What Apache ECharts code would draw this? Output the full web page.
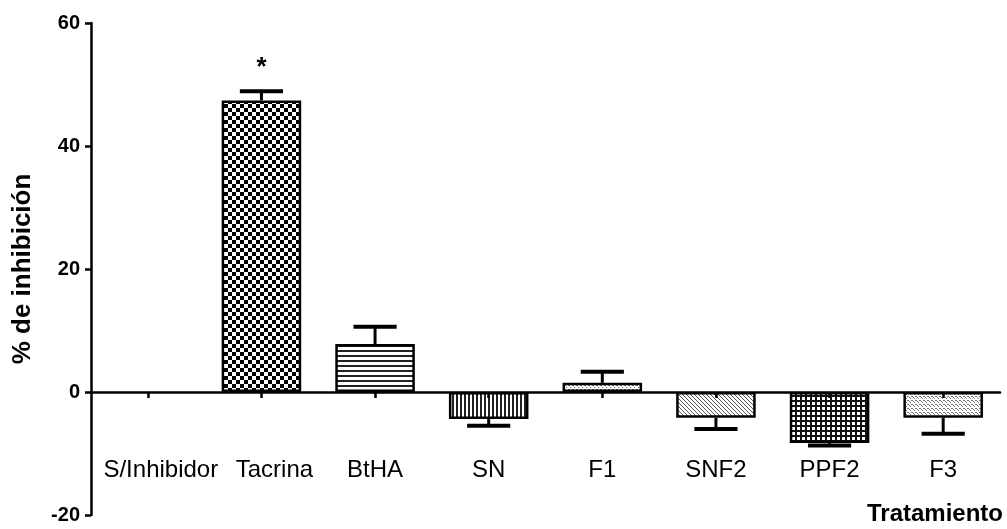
<!DOCTYPE html>
<html>
<head>
<meta charset="utf-8">
<script src="https://cdn.jsdelivr.net/npm/echarts@6/dist/echarts.min.js"></script>
<style>
  html, body { margin: 0; padding: 0; background: #fff; }
  #chart { width: 1007px; height: 529px; }
</style>
</head>
<body>
<div id="chart"></div>
<script>
// Treatments and their mean % inhibition with one-sided error (SEM)
const categories = ['S/Inhibidor', 'Tacrina', 'BtHA', 'SN', 'F1', 'SNF2', 'PPF2', 'F3'];
const means = [0, 47.4, 7.8, -4.4, 1.5, -4.2, -8.3, -4.2];
const errors = [0, 1.5, 2.8, 1.1, 1.8, 1.8, 0.4, 2.6];
const significance = ['', '*', '', '', '', '', '', ''];
const yTicks = { min: -20, max: 60, interval: 20 };

const FONT = '"Liberation Sans", Arial, sans-serif';

// Small repeating fill tiles for the hatched bars
function tile(w, h, draw) {
  const c = document.createElement('canvas');
  c.width = w; c.height = h;
  const g = c.getContext('2d');
  g.fillStyle = '#fff';
  g.fillRect(0, 0, w, h);
  draw(g);
  return c;
}
const fills = [
  tile(4, 4, g => {}),
  tile(8, 8, g => { g.fillStyle = '#000'; g.fillRect(0, 0, 4, 4); g.fillRect(4, 4, 4, 4); }),
  tile(4, 5, g => { g.fillStyle = '#222'; g.fillRect(0, 0, 4, 2); }),
  tile(4, 4, g => { g.fillStyle = '#222'; g.fillRect(0, 0, 2, 4); }),
  tile(4, 4, g => { g.fillStyle = '#666'; g.fillRect(0, 1, 2, 1); g.fillRect(2, 3, 1, 1); }),
  tile(4, 4, g => {
    g.fillStyle = '#555';
    for (let i = 0; i < 4; i++) { g.fillRect(i, i, 1, 1); }
  }),
  tile(5, 5, g => { g.fillStyle = '#111'; g.fillRect(0, 0, 5, 2); g.fillRect(0, 0, 2, 5); }),
  tile(4, 4, g => {
    g.fillStyle = '#777';
    g.fillRect(0, 0, 1, 1); g.fillRect(1, 1, 1, 1); g.fillRect(2, 2, 1, 1);
    g.fillRect(3, 0, 1, 1);
  })
];

const barData = means.map((v, i) => ({
  value: v,
  itemStyle: {
    color: { image: fills[i], repeat: 'repeat' },
    borderColor: i === 0 ? 'transparent' : '#000',
    borderWidth: 2.5
  }
}));

const errData = means.map((v, i) => [i, v, errors[i], significance[i]]);

const chart = echarts.init(document.getElementById('chart'));
chart.setOption({
  animation: false,
  backgroundColor: '#fff',
  grid: { left: 91, right: 7, top: 23, bottom: 14, containLabel: false, outerBoundsMode: 'none' },
  xAxis: {
    type: 'category',
    data: categories,
    z: 5,
    axisLine: { onZero: true, lineStyle: { color: '#000', width: 2.5 } },
    axisTick: { show: true, alignWithLabel: true, length: 6, lineStyle: { color: '#000', width: 2.5 } },
    axisLabel: {
      color: '#000', fontFamily: FONT, fontSize: 24, margin: -57, interval: 0,
      // the two left labels sit a little right of their ticks
      formatter: (v, idx) => idx < 2 ? '{shift|' + v + '}' : v,
      rich: { shift: { color: '#000', fontFamily: FONT, fontSize: 24, padding: [0, 0, 0, 26] } }
    },
    splitLine: { show: false }
  },
  yAxis: {
    type: 'value',
    min: yTicks.min, max: yTicks.max, interval: yTicks.interval,
    name: '% de inhibición',
    nameLocation: 'middle',
    nameGap: 55,
    nameRotate: 90,
    nameTextStyle: { color: '#000', fontFamily: FONT, fontSize: 26, fontWeight: 'bold' },
    axisLine: { show: true, lineStyle: { color: '#000', width: 2.5 } },
    axisTick: { show: true, length: 6, lineStyle: { color: '#000', width: 2.5 } },
    axisLabel: { color: '#000', fontFamily: FONT, fontSize: 20, fontWeight: 'bold', margin: 11 },
    splitLine: { show: false }
  },
  graphic: [{
    type: 'text',
    right: 4,
    top: 502,
    style: { text: 'Tratamiento', fill: '#000', font: 'bold 24px ' + FONT }
  }],
  series: [
    {
      type: 'bar',
      data: barData,
      barWidth: '70%',
      z: 2
    },
    {
      type: 'custom',
      z: 6,
      data: errData,
      renderItem: function (params, api) {
        const i = api.value(0);
        const m = api.value(1);
        const e = api.value(2);
        const mark = errData[params.dataIndex][3];
        if (!e) return { type: 'group', children: [] };
        const end = m >= 0 ? m + e : m - e;
        const p0 = api.coord([i, m]);
        const p1 = api.coord([i, end]);
        const half = api.size([1, 0])[0] * 0.19;
        const style = { stroke: '#000', lineWidth: 3 };
        const children = [
          { type: 'line', shape: { x1: p0[0], y1: p0[1], x2: p1[0], y2: p1[1] }, style: style },
          { type: 'line', shape: { x1: p1[0] - half, y1: p1[1], x2: p1[0] + half, y2: p1[1] }, style: { stroke: '#000', lineWidth: 4 } }
        ];
        if (mark) {
          children.push({
            type: 'text',
            style: {
              text: mark, x: p1[0], y: p1[1] - 10,
              fill: '#000', font: 'bold 26px ' + FONT,
              align: 'center', verticalAlign: 'bottom'
            }
          });
        }
        return { type: 'group', children: children };
      }
    }
  ]
});
</script>
</body>
</html>
